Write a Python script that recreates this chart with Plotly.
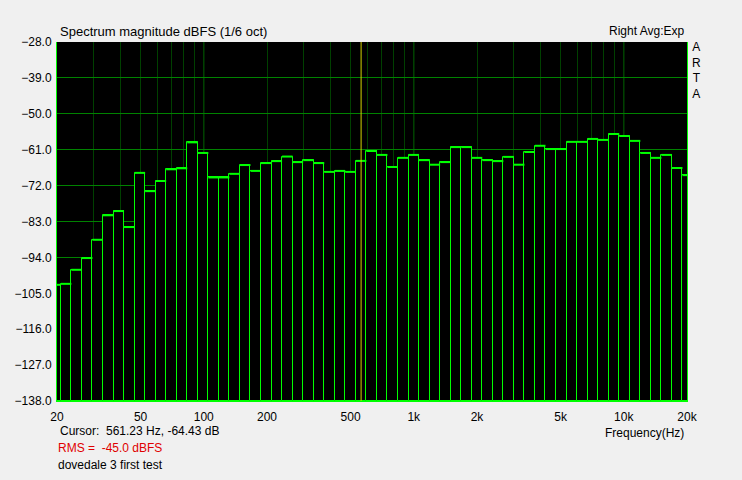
import plotly.graph_objects as go

# 1/6-octave band centre frequencies (Hz)
band_hz = [19.69, 22.10, 24.80, 27.84, 31.25, 35.08, 39.37, 44.19, 49.61, 55.68,
           62.50, 70.15, 78.75, 88.39, 99.21, 111.4, 125.0, 140.3, 157.5, 176.8,
           198.4, 222.7, 250.0, 280.6, 315.0, 353.6, 396.9, 445.4, 500.0, 561.2,
           630.0, 707.1, 793.7, 890.9, 1000, 1122, 1260, 1414, 1587, 1782,
           2000, 2245, 2520, 2828, 3175, 3564, 4000, 4490, 5040, 5657,
           6350, 7127, 8000, 8980, 10079, 11314, 12699, 14254, 16000, 17959, 20159]

# magnitude in dBFS
level_db = [-102.4, -102.1, -97.8, -94.2, -88.6, -81.1, -79.8, -84.7, -68.1, -73.7,
            -70.6, -67.0, -66.7, -58.75, -62.0, -69.5, -69.5, -68.4, -65.7, -67.5,
            -65.1, -64.5, -63.1, -64.8, -64.2, -65.1, -67.8, -67.5, -67.8, -64.43,
            -61.4, -62.6, -66.3, -63.5, -62.6, -64.2, -65.6, -64.8, -60.2, -60.2,
            -63.5, -64.2, -64.5, -63.2, -65.6, -61.7, -59.8, -60.8, -60.8, -58.6,
            -58.6, -57.7, -58.0, -56.2, -56.8, -58.3, -62.0, -63.5, -62.6, -66.6, -68.8]

y_ticks = [-28, -39, -50, -61, -72, -83, -94, -105, -116, -127, -138]
x_tick_vals = [20, 50, 100, 200, 500, 1000, 2000, 5000, 10000, 20000]
x_tick_text = ["20", "50", "100", "200", "500", "1k", "2k", "5k", "10k", "20k"]
x_minor_vals = [30, 40, 60, 70, 80, 90, 300, 400, 600, 700, 800, 900,
                3000, 4000, 6000, 7000, 8000, 9000]
decade_lines = [100, 1000, 10000]
cursor_hz = 561.23
cursor_db = -64.43
y_floor = -138
y_top = -28

half = 2 ** (1 / 12)
lo = [c / half for c in band_hz]
hi = [c * half for c in band_hz]
widths = [h - l for l, h in zip(lo, hi)]
heights = [v - y_floor for v in level_db]

GREEN = "#00ff00"
GRID_DARK = "rgb(0,64,0)"
GRID_MID = "rgb(0,130,0)"

fig = go.Figure()
fig.add_trace(go.Bar(
    x=lo, y=heights, base=[y_floor] * len(lo), width=widths, offset=0,
    marker=dict(color="black", opacity=1, line=dict(color=GREEN, width=1)),
    hoverinfo="skip", showlegend=False,
))
# thick top edges
tx, ty = [], []
for l, h, v in zip(lo, hi, level_db):
    tx += [l, h, None]
    ty += [v, v, None]
fig.add_trace(go.Scatter(x=tx, y=ty, mode="lines",
                         line=dict(color=GREEN, width=2),
                         hoverinfo="skip", showlegend=False))

shapes = []
for d in decade_lines:
    shapes.append(dict(type="line", xref="x", yref="paper", x0=d, x1=d, y0=0, y1=1,
                       line=dict(color=GRID_MID, width=1), layer="below"))
shapes.append(dict(type="line", xref="x", yref="paper", x0=cursor_hz, x1=cursor_hz,
                   y0=0, y1=1, line=dict(color="#d4d400", width=1), layer="above"))

W, H = 742, 480
L, R, T, B = 57, 687, 42, 401


def px(xp):
    return (xp - L) / (R - L)


def py(yp):
    return (B - yp) / (B - T)


FAM = "Liberation Sans, Arial, sans-serif"
font = dict(family=FAM, size=12, color="black")
ann = []
ann.append(dict(text="Spectrum magnitude dBFS (1/6 oct)", x=px(58), y=py(31),
                xanchor="left", yanchor="middle", font=dict(family=FAM, size=13, color="black")))
ann.append(dict(text="Right Avg:Exp", x=px(686), y=py(31), xanchor="right", yanchor="middle"))
ann.append(dict(text="A<br>R<br>T<br>A", x=px(696), y=py(70), xanchor="center",
                yanchor="middle", align="center",
                font=dict(family=FAM, size=12, color="black")))
ann.append(dict(text=f"Cursor:  {cursor_hz:.2f} Hz, {cursor_db:.2f} dB", x=px(58), y=py(431),
                xanchor="left", yanchor="middle"))
ann.append(dict(text="Frequency(Hz)", x=px(686), y=py(433), xanchor="right", yanchor="middle"))
ann.append(dict(text="RMS =  -45.0 dBFS", x=px(56), y=py(448), xanchor="left", yanchor="middle",
                font=dict(family=FAM, size=12, color="#e00000")))
ann.append(dict(text="dovedale 3 first test", x=px(56), y=py(465), xanchor="left",
                yanchor="middle"))
for a in ann:
    a.update(xref="paper", yref="paper", showarrow=False)
    a.setdefault("font", font)

fig.update_layout(
    width=W, height=H,
    margin=dict(l=L, r=W - R, t=T, b=H - B, pad=0),
    paper_bgcolor="#f0f0f0", plot_bgcolor="black",
    font=font, bargap=0, barmode="overlay",
    shapes=shapes, annotations=ann,
    xaxis=dict(type="log", range=[1.30103, 4.30103], tickvals=x_tick_vals,
               ticktext=x_tick_text, showgrid=True, gridcolor=GRID_DARK, gridwidth=1,
               minor=dict(tickvals=x_minor_vals, showgrid=True, gridcolor=GRID_DARK,
                          gridwidth=1, ticks=""),
               ticks="", showline=True, linecolor=GREEN, linewidth=1, mirror=False,
               zeroline=False, tickfont=font, ticklabelstandoff=5),
    yaxis=dict(range=[y_floor, y_top], tickvals=y_ticks, tickformat=".1f",
               showgrid=True, gridcolor=GRID_MID, gridwidth=1, ticks="",
               showline=True, linecolor=GREEN, linewidth=1, mirror=True,
               zeroline=False, tickfont=font, ticklabelstandoff=2),
)

fig.write_html("out.html", config={"displayModeBar": False},
               post_script="document.body.style.margin='0px';document.body.style.background='#f0f0f0';")
